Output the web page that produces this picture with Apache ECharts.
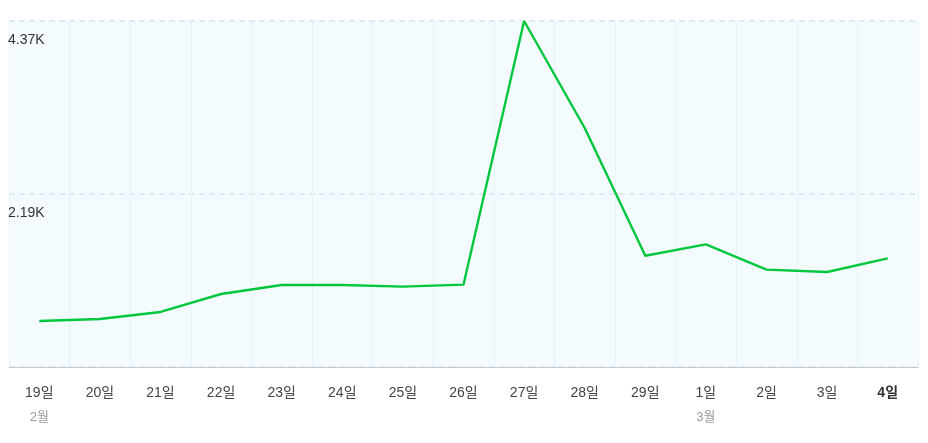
<!DOCTYPE html>
<html><head><meta charset="utf-8">
<script src="https://cdn.jsdelivr.net/npm/echarts@6/dist/echarts.min.js"></script>
<style>html,body{margin:0;padding:0;background:#fff}#c{width:928px;height:443px}</style>
</head><body><div id="c"></div>
<script>
const days = ['19일','20일','21일','22일','23일','24일','25일','26일','27일','28일','29일','1일','2일','3일','4일'];
const months = ['2월','','','','','','','','','','','3월','','',''];
const values = [581, 606, 695, 922, 1036, 1036, 1015, 1040, 4370, 3019, 1405, 1549, 1230, 1200, 1372];
const yTickValues = [0, 2185, 4370];
const yTickLabels = ['', '2.19K', '4.37K'];

const font = '"Liberation Sans", Arial, "Noto Sans CJK KR", sans-serif';
const chart = echarts.init(document.getElementById('c'));
chart.setOption({
  animation: false,
  grid: {left: 9, right: 10, top: 21, bottom: 76, show: true, backgroundColor: '#f3fbfe', borderWidth: 0},
  xAxis: {
    type: 'category', data: days, boundaryGap: true,
    axisLine: {lineStyle: {color: '#c6c9cc', width: 1}},
    axisTick: {show: false},
    splitLine: {show: true, lineStyle: {color: '#e6f3fa', width: 1}},
    axisLabel: {
      margin: 14, interval: 0, fontFamily: font,
      formatter: function (v, i) {
        const d = (i === days.length - 1) ? '{b|' + v + '}' : '{d|' + v + '}';
        return d + '\n' + (months[i] ? '{m|' + months[i] + '}' : '{m| }');
      },
      rich: {
        d: {fontSize: 14, color: '#444', fontFamily: font, lineHeight: 24},
        b: {fontSize: 14, color: '#333', fontWeight: 'bold', fontFamily: font, lineHeight: 24},
        m: {fontSize: 13, color: '#999', fontFamily: font, lineHeight: 24}
      }
    }
  },
  yAxis: {
    type: 'value', min: 0, max: 4370, interval: 2185,
    axisLine: {show: false}, axisTick: {show: false},
    splitLine: {show: true, lineStyle: {color: '#dfe9ee', type: [6, 4], width: 2}},
    axisLabel: {
      inside: true, showMinLabel: false, margin: -1,
      verticalAlign: 'top', padding: [12, 0, 0, 0],
      fontSize: 14, color: '#333', fontFamily: font,
      formatter: function (v) { const i = yTickValues.indexOf(v); return i >= 0 ? yTickLabels[i] : ''; }
    }
  },
  series: [{
    type: 'line', data: values, showSymbol: false, symbol: 'none',
    lineStyle: {color: '#00c73c', width: 2.4}
  }]
});
</script></body></html>
